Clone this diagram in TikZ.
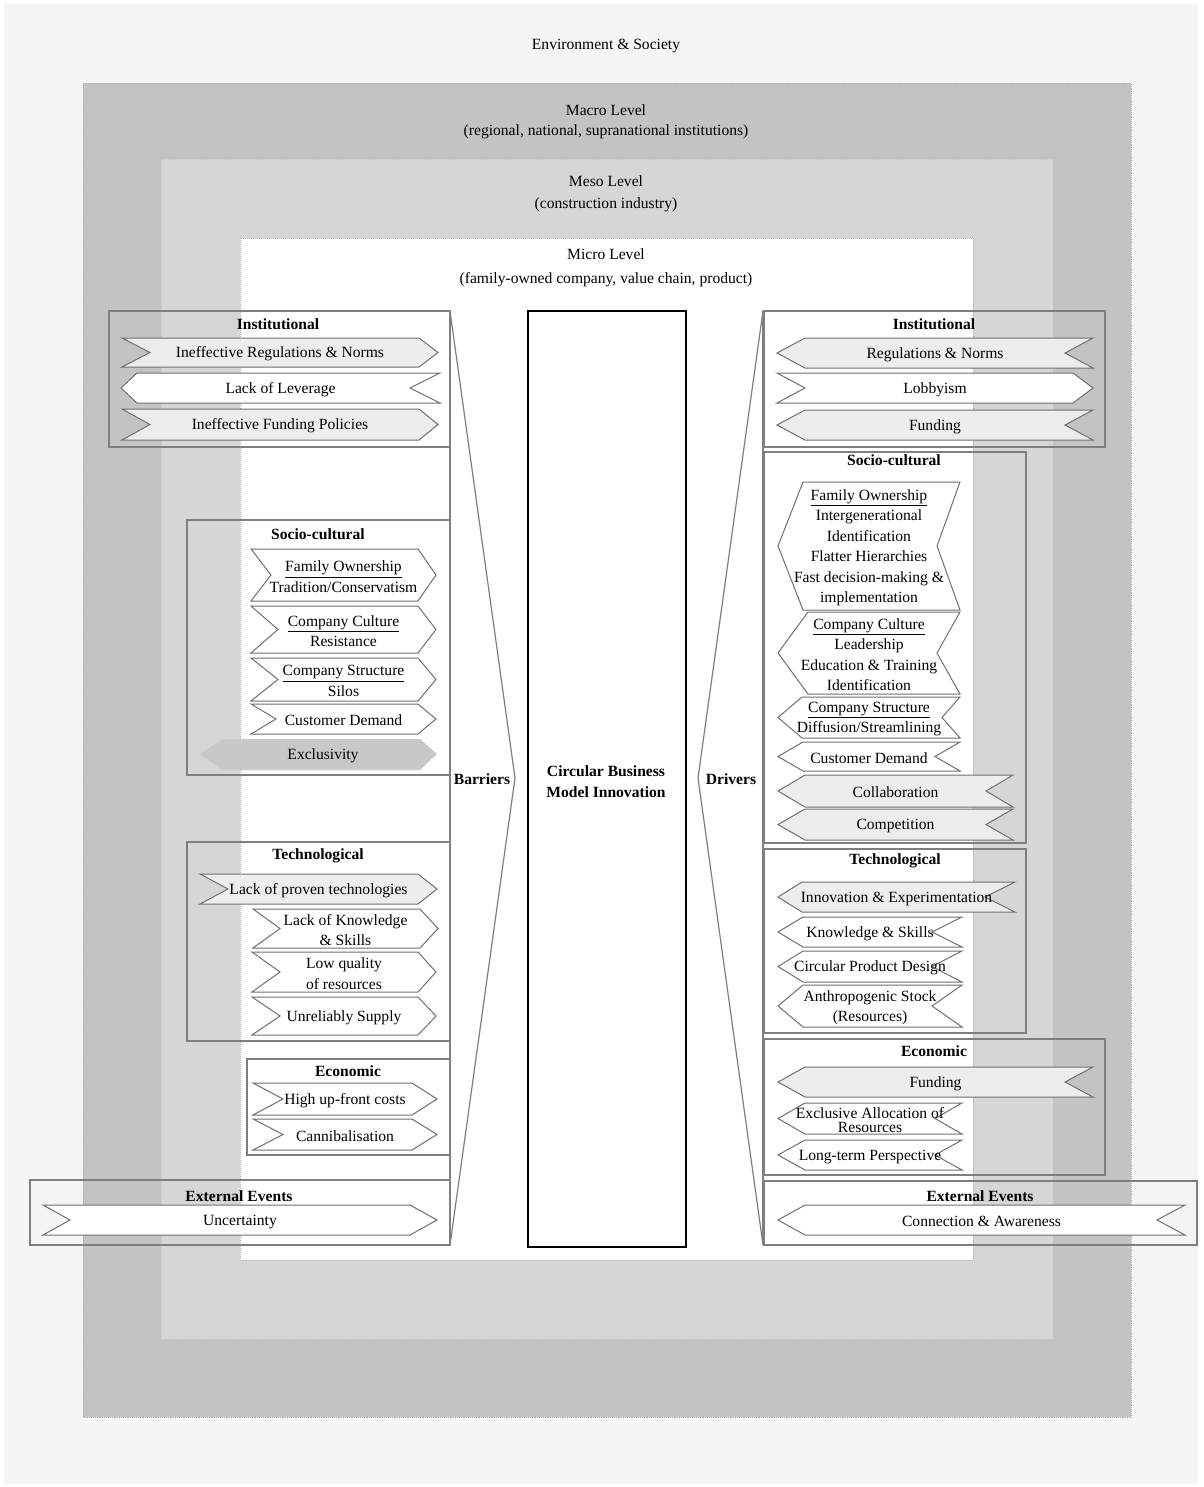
\documentclass[tikz,border=0pt]{standalone}
\usepackage{fontspec}
\setmainfont{Liberation Serif}
\definecolor{bgc}{HTML}{F5F5F5}
\definecolor{macroc}{HTML}{C3C3C3}
\definecolor{mesoc}{HTML}{D6D6D6}
\definecolor{chevgray}{HTML}{EDEDED}
\definecolor{exclc}{HTML}{C8C8C8}
\definecolor{grpc}{HTML}{7F7F7F}
\definecolor{chevline}{HTML}{707070}
\newcommand{\myfs}{\fontsize{11.7}{15.4}\selectfont}
% right-pointing chevron: name, xL, yT, xR, yB, notch depth, tip depth, style, text
\newcommand{\chevR}[9]{%
  \draw[chev,#8] (#2,#3) -- ({#4-#7},#3) -- (#4,{(#3+#5)/2}) -- ({#4-#7},#5) -- (#2,#5) -- ({#2+#6},{(#3+#5)/2}) -- cycle;
  \node[txt] (#1) at ({(#2+#4)/2},{(#3+#5)/2}) {#9};}
% left-pointing chevron: name, xL, yT, xR, yB, tip depth, notch depth, style, text
\newcommand{\chevL}[9]{%
  \draw[chev,#8] ({#2+#6},#3) -- (#4,#3) -- ({#4-#7},{(#3+#5)/2}) -- (#4,#5) -- ({#2+#6},#5) -- (#2,{(#3+#5)/2}) -- cycle;
  \node[txt] (#1) at ({(#2+#4)/2},{(#3+#5)/2}) {#9};}
\begin{document}
\begin{tikzpicture}[x=0.75pt,y=-0.75pt,
  grp/.style={draw=grpc,line width=0.9pt},
  chev/.style={draw=chevline,line width=0.75pt,fill=white},
  gfill/.style={fill=chevgray},
  txt/.style={font=\myfs,align=center,inner sep=0pt,yshift=-1.2pt},
  ttl/.style={font=\myfs\bfseries,align=center,inner sep=0pt,yshift=-1.2pt}]
\useasboundingbox[fill=white] (0,0) rectangle (1203,1487);
% levels
\fill[bgc] (4,4) rectangle (1198,1484);
\draw[macroc!90!black,densely dotted,line width=0.4pt,fill=macroc] (83,83) rectangle (1131,1417);
\draw[mesoc!92!black,densely dotted,line width=0.4pt,fill=mesoc] (161,159) rectangle (1053,1339);
\draw[gray!60,densely dotted,line width=0.5pt,fill=white] (240,238) rectangle (973,1260);
\node[txt] (env) at (606,44) {Environment \& Society};
\node[txt] (mac1) at (606,109) {Macro Level};
\node[txt] (mac2) at (606,130) {(regional, national, supranational institutions)};
\node[txt] (mes1) at (606,180) {Meso Level};
\node[txt] (mes2) at (606,203) {(construction industry)};
\node[txt] (mic1) at (606,253) {Micro Level};
\node[txt] (mic2) at (606,278) {(family-owned company, value chain, product)};

% ---------- LEFT: barriers ----------
\draw[grp] (109,311) rectangle (450,447);
\node[ttl] (liT) at (278,323) {Institutional};
\chevR{li1}{122}{338}{438}{367}{28}{19}{gfill}{Ineffective Regulations \& Norms}
\chevL{li2}{121}{373}{440}{403}{16}{30}{}{Lack of Leverage}
\chevR{li3}{122}{409}{438}{440}{28}{19}{gfill}{Ineffective Funding Policies}

\draw[grp] (187,520) rectangle (450,775);
\node[ttl] (lsT) at (318,533) {Socio-cultural};
\chevR{ls1}{251}{549}{436}{601}{20}{18}{}{\underline{Family Ownership}\\Tradition/Conservatism}
\chevR{ls2}{251}{606}{436}{653}{27}{18}{}{\underline{Company Culture}\\Resistance}
\chevR{ls3}{251}{658}{436}{701}{27}{18}{}{\underline{Company Structure}\\Silos}
\chevR{ls4}{251}{704}{436}{734}{25}{18}{}{Customer Demand}
\fill[exclc] (200,754) -- (222,739) -- (420,739) -- (437,754) -- (420,770) -- (222,770) -- cycle;
\node[txt] (ls5) at (323,754) {Exclusivity};

\draw[grp] (187,842) rectangle (450,1041);
\node[ttl] (ltT) at (318,854) {Technological};
\chevR{lt1}{200}{874}{437}{904}{28}{19}{gfill}{Lack of proven technologies}
\chevR{lt2}{253}{909}{438}{948}{27}{18}{}{Lack of Knowledge\\\& Skills}
\chevR{lt3}{252}{952}{436}{992}{28}{18}{}{Low quality\\of resources}
\chevR{lt4}{252}{997}{436}{1035}{28}{18}{}{Unreliably Supply}

\draw[grp] (247,1059) rectangle (450,1155);
\node[ttl] (leT) at (348,1070) {Economic};
\chevR{le1}{253}{1083}{437}{1115}{30}{25}{}{High up-front costs}
\chevR{le2}{253}{1119}{437}{1150}{30}{25}{}{Cannibalisation}

\draw[grp] (30,1180) rectangle (450,1245);
\node[ttl] (lxT) at (239,1195) {External Events};
\chevR{lx1}{43}{1205}{437}{1235}{27}{27}{}{Uncertainty}

% ---------- RIGHT: drivers ----------
\draw[grp] (764,311) rectangle (1105,447);
\node[ttl] (riT) at (934,323) {Institutional};
\chevL{ri1}{777}{338}{1093}{368}{28}{28}{gfill}{Regulations \& Norms}
\chevR{ri2}{777}{373}{1093}{403}{28}{20}{}{Lobbyism}
\chevL{ri3}{777}{410}{1093}{440}{28}{28}{gfill}{Funding}

\draw[grp] (764,452) rectangle (1026,843);
\node[ttl] (rsT) at (894,459) {Socio-cultural};
\chevL{rs1}{778}{482}{960}{610}{25}{23}{}{\underline{Family Ownership}\\Intergenerational\\Identification\\Flatter Hierarchies\\Fast decision-making \&\\implementation}
\chevL{rs2}{778}{612}{960}{694}{30}{23}{}{\underline{Company Culture}\\Leadership\\Education \& Training\\Identification}
\chevL{rs3}{778}{697}{960}{738}{24}{18}{}{\underline{Company Structure}\\Diffusion/Streamlining}
\chevL{rs4}{778}{742}{960}{771}{25}{25}{}{Customer Demand}
\chevL{rs5}{778}{775}{1013}{807}{27}{27}{gfill}{Collaboration}
\chevL{rs6}{778}{809}{1013}{840}{27}{27}{gfill}{Competition}

\draw[grp] (764,849) rectangle (1026,1033);
\node[ttl] (rtT) at (895,859) {Technological};
\chevL{rt1}{778}{882}{1015}{912}{24}{30}{gfill}{Innovation \& Experimentation}
\chevL{rt2}{778}{917}{962}{947}{25}{30}{}{Knowledge \& Skills}
\chevL{rt3}{778}{951}{962}{982}{25}{30}{}{Circular Product Design}
\chevL{rt4}{778}{985}{962}{1027}{25}{30}{}{Anthropogenic Stock\\(Resources)}

\draw[grp] (764,1039) rectangle (1105,1175);
\node[ttl] (reT) at (934,1050) {Economic};
\chevL{re1}{778}{1067}{1093}{1097}{27}{28}{gfill}{Funding}
\chevL{re2}{778}{1103}{962}{1134}{27}{27}{}{Exclusive Allocation of\\[-5.6pt]Resources}
\chevL{re3}{778}{1140}{962}{1170}{27}{27}{}{Long-term Perspective}

\draw[grp] (764,1181) rectangle (1197,1245);
\node[ttl] (rxT) at (980,1195) {External Events};
\chevL{rx1}{778}{1205}{1185}{1235}{27}{28}{}{Connection \& Awareness}

% ---------- centre ----------
\coordinate (bT) at (450,311);
\coordinate (bA) at (515,778);
\coordinate (bB) at (450,1245);
\coordinate (dT) at (763,311);
\coordinate (dA) at (698,778);
\coordinate (dB) at (763,1245);
\draw[grp] (bT) -- (bB);
\draw[grp] (bT) -- (bA) -- (bB);
\draw[grp] (dT) -- (dB);
\draw[grp] (dT) -- (dA) -- (dB);
\draw[black,line width=0.9pt] (528,311) rectangle (686,1247);
\node[ttl] (cbmi) at (606,780) {Circular Business\\Model Innovation};
\node[ttl] (bar) at (482,778) {Barriers};
\node[ttl] (drv) at (731,778) {Drivers};
\end{tikzpicture}
\end{document}
